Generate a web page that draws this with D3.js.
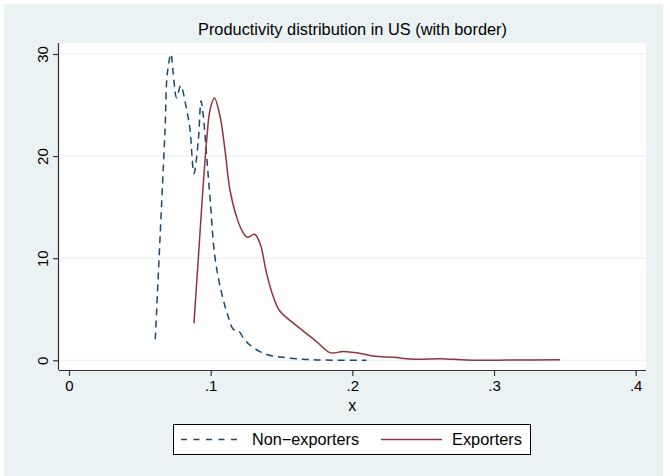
<!DOCTYPE html>
<html>
<head>
<meta charset="utf-8">
<script src="https://cdn.jsdelivr.net/npm/d3@7"></script>
<style>
  body { margin: 0; background: #fff; }
  text { font-family: "Liberation Sans", Arial, sans-serif; fill: #000; }
</style>
</head>
<body>
<div id="chart"></div>
<script>
// density estimates
const nonExpX = [0.0609, 0.0654, 0.0678, 0.0694, 0.072, 0.0735, 0.076, 0.0788, 0.0831, 0.0854,
  0.0882, 0.0913, 0.0932, 0.0948, 0.0972, 0.0995, 0.1031, 0.1078, 0.1124, 0.116, 0.1195,
  0.1235, 0.1277, 0.1348, 0.14, 0.151, 0.165, 0.175, 0.19, 0.21];
const nonExpY = [2.06, 15.4, 22.6, 28.1, 30.0, 28.2, 25.7, 26.9, 24.5, 22.6,
  18.3, 21.6, 25.4, 23.9, 19.9, 16.0, 10.0, 6.56, 4.27, 3.03, 2.9,
  2.1, 1.5, 0.85, 0.55, 0.29, 0.1, 0.04, 0.01, 0.0];

const expX = [0.0882, 0.0913, 0.094, 0.0972, 0.0995, 0.1026, 0.1066, 0.1101, 0.1136, 0.1184,
  0.1225, 0.1259, 0.131, 0.1348, 0.1395, 0.1442, 0.149, 0.163, 0.1748, 0.1842, 0.1936,
  0.2077, 0.2148, 0.2289, 0.2454, 0.262, 0.2806, 0.31, 0.3466];
const expY = [3.62, 10.0, 15.7, 21.6, 24.5, 25.7, 23.9, 20.6, 16.7, 14.0,
  12.6, 12.05, 12.34, 11.46, 8.5, 6.23, 4.8, 3.13, 1.82, 0.75, 0.85,
  0.62, 0.42, 0.29, 0.1, 0.16, 0.03, 0.02, 0.06];

const xTicks = [0, 0.1, 0.2, 0.3, 0.4];
const xTickLabels = ["0", ".1", ".2", ".3", ".4"];
const yTicks = [0, 10, 20, 30];
const seriesNames = ["Non\u2212exporters", "Exporters"];

const W = 670, H = 476;
const plot = { left: 59, right: 646, top: 43, bottom: 370 };

const svg = d3.select("#chart").append("svg")
  .attr("width", W).attr("height", H);

svg.append("rect").attr("x", 4).attr("y", 4)
  .attr("width", 659).attr("height", H - 4).attr("fill", "#eaf2f3");

svg.append("rect")
  .attr("x", plot.left).attr("y", plot.top)
  .attr("width", plot.right - plot.left).attr("height", plot.bottom - plot.top)
  .attr("fill", "#fff");

const x = d3.scaleLinear().domain([0, 0.4]).range([69, 635.7]);
const y = d3.scaleLinear().domain([0, 30]).range([360.3, 54]);

// grid
svg.append("g").selectAll("line").data(yTicks).join("line")
  .attr("x1", plot.left).attr("x2", plot.right)
  .attr("y1", d => y(d)).attr("y2", d => y(d))
  .attr("stroke", "#eaf2f3").attr("stroke-width", 1.2);

// axes
const xAxis = svg.append("g")
  .attr("transform", `translate(0,${plot.bottom})`)
  .call(d3.axisBottom(x).tickValues(xTicks)
    .tickFormat((d, i) => xTickLabels[i]).tickSize(6).tickPadding(4).tickSizeOuter(0));
xAxis.select(".domain").attr("d", `M${plot.left},0.5H${plot.right}`);

const yAxis = svg.append("g")
  .attr("transform", `translate(${plot.left},0)`)
  .call(d3.axisLeft(y).tickValues(yTicks).tickSize(6).tickSizeOuter(0));
yAxis.select(".domain").attr("d", `M-0.5,${plot.top}V${plot.bottom}`);

[xAxis, yAxis].forEach(a => {
  a.selectAll(".domain").attr("stroke", "#333").attr("stroke-width", 1.2);
  a.selectAll(".tick line").attr("stroke", "#333").attr("stroke-width", 1.2);
  a.selectAll("text").attr("font-size", 15).attr("fill", "#000")
    .style("font-family", '"Liberation Sans", Arial, sans-serif');
});

yAxis.selectAll(".tick text")
  .attr("x", null).attr("dy", null)
  .attr("text-anchor", "middle")
  .attr("transform", "translate(-16,0) rotate(-90)")
  .attr("y", 5);

svg.append("text").attr("x", x(0.2)).attr("y", 411)
  .attr("text-anchor", "middle").attr("font-size", 16).text("x");

svg.append("text").attr("x", (plot.left + plot.right) / 2).attr("y", 35)
  .attr("text-anchor", "middle").attr("font-size", 16.3).attr("fill", "#1e2b4c")
  .attr("textLength", 309).attr("lengthAdjust", "spacingAndGlyphs")
  .text("Productivity distribution in US (with border)");

// curves
const line = d3.line()
  .x(d => x(d[0])).y(d => y(d[1]))
  .curve(d3.curveCatmullRom.alpha(0.5));

svg.append("path")
  .datum(nonExpX.map((v, i) => [v, nonExpY[i]]))
  .attr("d", line).attr("fill", "none")
  .attr("stroke", "#1a476f").attr("stroke-width", 1.5)
  .attr("stroke-dasharray", "7,5");

svg.append("path")
  .datum(expX.map((v, i) => [v, expY[i]]))
  .attr("d", line).attr("fill", "none")
  .attr("stroke", "#90353b").attr("stroke-width", 1.5);

// legend
const lg = svg.append("g");
lg.append("rect").attr("x", 173.5).attr("y", 424.5).attr("width", 357).attr("height", 30)
  .attr("fill", "#fff").attr("stroke", "#000").attr("stroke-width", 1);
lg.append("line").attr("x1", 181).attr("x2", 242).attr("y1", 439.5).attr("y2", 439.5)
  .attr("stroke", "#1a476f").attr("stroke-width", 1.5).attr("stroke-dasharray", "6,6.5");
lg.append("text").attr("x", 252).attr("y", 445).attr("font-size", 16)
  .attr("textLength", 107).attr("lengthAdjust", "spacingAndGlyphs").text(seriesNames[0]);
lg.append("line").attr("x1", 381).attr("x2", 442).attr("y1", 439.5).attr("y2", 439.5)
  .attr("stroke", "#90353b").attr("stroke-width", 1.5);
lg.append("text").attr("x", 452).attr("y", 445).attr("font-size", 16)
  .attr("textLength", 70).attr("lengthAdjust", "spacingAndGlyphs").text(seriesNames[1]);
</script>
</body>
</html>
